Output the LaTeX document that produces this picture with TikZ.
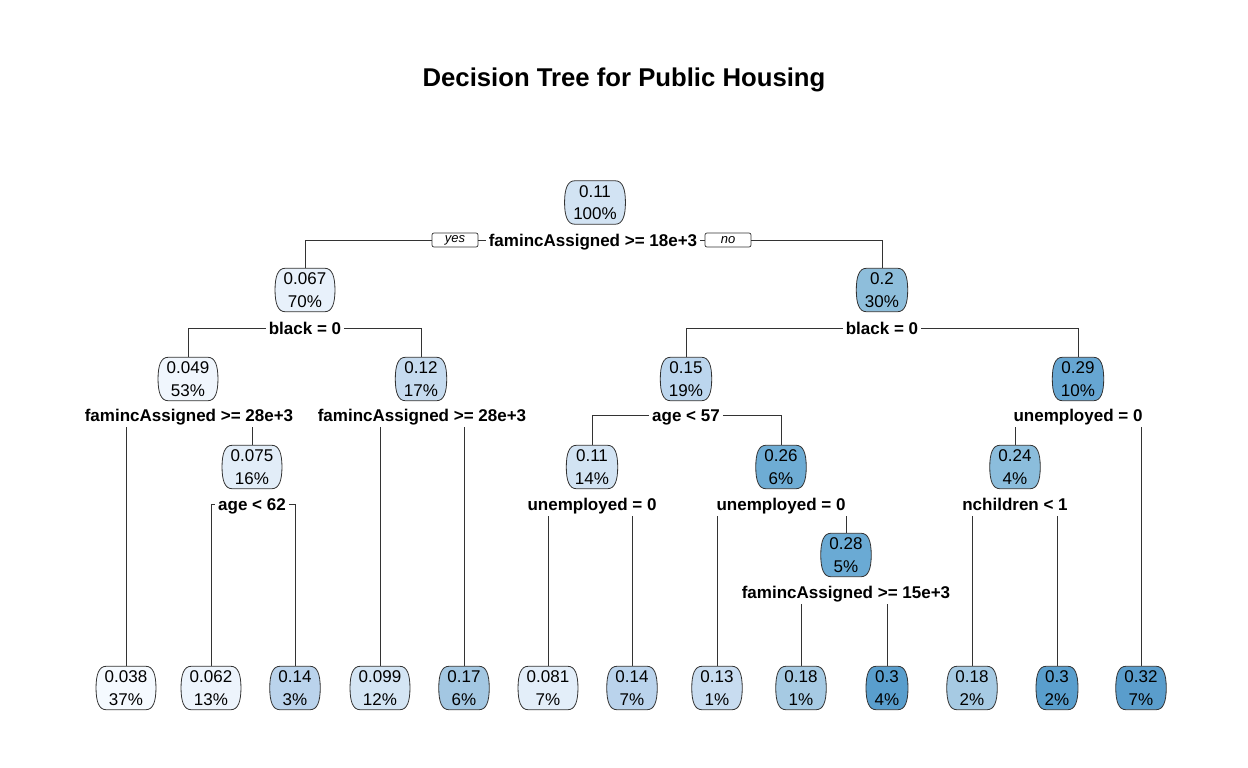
\documentclass[tikz,border=0pt]{standalone}
\usepackage{fontspec}
\setmainfont{Liberation Sans}
\usetikzlibrary{calc}
\pgfdeclarelayer{bg}
\pgfsetlayers{bg,main}
\begin{document}
\begin{tikzpicture}[x=1pt,y=-1pt]
\definecolor{ca}{HTML}{F5FAFF}
\definecolor{cb}{HTML}{F0F6FD}
\definecolor{cc}{HTML}{EDF4FC}
\definecolor{cd}{HTML}{E8F1FB}
\definecolor{ce}{HTML}{E2EDF8}
\definecolor{cf}{HTML}{E3EEF9}
\definecolor{cg}{HTML}{D4E5F4}
\definecolor{ch}{HTML}{D2E3F3}
\definecolor{ci}{HTML}{C6DBEF}
\definecolor{cj}{HTML}{C8DCF0}
\definecolor{ck}{HTML}{BAD3EC}
\definecolor{cl}{HTML}{BCD6EE}
\definecolor{cm}{HTML}{A3C7E2}
\definecolor{cn}{HTML}{A6CAE3}
\definecolor{co}{HTML}{8EBEDB}
\definecolor{cp}{HTML}{8BBDDC}
\definecolor{cq}{HTML}{6EACD4}
\definecolor{cr}{HTML}{6AAAD4}
\definecolor{cs}{HTML}{66A6D2}
\definecolor{ct}{HTML}{599ECD}
\definecolor{cu}{HTML}{5A9DCC}
\definecolor{edgec}{HTML}{333333}
\tikzset{
 tn/.style={align=center, font=\fontsize{17}{22.5}\selectfont, inner xsep=8.5pt, inner ysep=0pt, minimum height=43pt},
 bshape/.style={draw=edgec, line width=0.8pt},
 lbl/.style={font=\bfseries\fontsize{17}{20}\selectfont, text height=12.2pt, text depth=0pt,
   inner xsep=3pt, inner ysep=0pt},
 conn/.style={draw=edgec, line width=0.8pt},
 yn/.style={draw=edgec, line width=0.7pt, rounded corners=2pt, font=\itshape\fontsize{13}{14}\selectfont,
   minimum width=46pt, minimum height=14pt, inner sep=0pt, fill=white},
 ttl/.style={font=\bfseries\fontsize{25.7}{30}\selectfont}
}
\newcommand\boxshape[2]{%
 \path[bshape, fill=#2] let \p1=(#1.north west), \p2=(#1.south east), \p3=(#1.center) in
  (\x1+10pt,\y1) -- (\x2-10pt,\y1)
  .. controls (\x2-3pt,\y1) and (\x2,\y1-8pt) .. (\x2,\y3)
  .. controls (\x2,\y2+8pt) and (\x2-3pt,\y2) .. (\x2-10pt,\y2)
  -- (\x1+10pt,\y2)
  .. controls (\x1+3pt,\y2) and (\x1,\y2+8pt) .. (\x1,\y3)
  .. controls (\x1,\y1-8pt) and (\x1+3pt,\y1) .. cycle;}
\useasboundingbox (0,0) rectangle (1248,768);
\node[ttl] (title) at (624,80) {Decision Tree for Public Housing};
% internal nodes
\node[tn] (n1) at (595,202.5) {0.11\\100\%};
\node[tn] (n2) at (305,290) {0.067\\70\%};
\node[tn] (n3) at (882,290) {0.2\\30\%};
\node[tn] (n4) at (188,379) {0.049\\53\%};
\node[tn] (n5) at (421,379) {0.12\\17\%};
\node[tn] (n6) at (686,379) {0.15\\19\%};
\node[tn] (n7) at (1078,379) {0.29\\10\%};
\node[tn] (n9) at (252,467) {0.075\\16\%};
\node[tn] (n12) at (592,467) {0.11\\14\%};
\node[tn] (n13) at (781,467) {0.26\\6\%};
\node[tn] (n15) at (1015,467) {0.24\\4\%};
\node[tn] (n27) at (846,555) {0.28\\5\%};
% leaves
\node[tn] (L1) at (126,688) {0.038\\37\%};
\node[tn] (L2) at (211,688) {0.062\\13\%};
\node[tn] (L3) at (295,688) {0.14\\3\%};
\node[tn] (L4) at (380,688) {0.099\\12\%};
\node[tn] (L5) at (464,688) {0.17\\6\%};
\node[tn] (L6) at (548,688) {0.081\\7\%};
\node[tn] (L7) at (632,688) {0.14\\7\%};
\node[tn] (L8) at (717,688) {0.13\\1\%};
\node[tn] (L9) at (801,688) {0.18\\1\%};
\node[tn] (L10) at (887,688) {0.3\\4\%};
\node[tn] (L11) at (972,688) {0.18\\2\%};
\node[tn] (L12) at (1057,688) {0.3\\2\%};
\node[tn] (L13) at (1141,688) {0.32\\7\%};
\begin{pgfonlayer}{bg}
\boxshape{n1}{ch}
\boxshape{n2}{cd}
\boxshape{n3}{co}
\boxshape{n4}{cb}
\boxshape{n5}{ci}
\boxshape{n6}{cl}
\boxshape{n7}{cs}
\boxshape{n9}{ce}
\boxshape{n12}{ch}
\boxshape{n13}{cq}
\boxshape{n15}{cp}
\boxshape{n27}{cr}
\boxshape{L1}{ca}
\boxshape{L2}{cc}
\boxshape{L3}{ck}
\boxshape{L4}{cg}
\boxshape{L5}{cm}
\boxshape{L6}{cf}
\boxshape{L7}{ck}
\boxshape{L8}{cj}
\boxshape{L9}{cn}
\boxshape{L10}{ct}
\boxshape{L11}{cn}
\boxshape{L12}{ct}
\boxshape{L13}{cu}
\end{pgfonlayer}
% split labels
\node[lbl] (s1) at (593,240) {famincAssigned >= 18e+3};
\node[yn] (yes) at (455,240) {yes};
\node[yn] (no) at (728,240) {no};
\node[lbl] (s2) at (305,328) {black = 0};
\node[lbl] (s3) at (882,328) {black = 0};
\node[lbl] (s4) at (189,415) {famincAssigned >= 28e+3};
\node[lbl] (s5) at (422,415) {famincAssigned >= 28e+3};
\node[lbl] (s6) at (686,415) {age < 57};
\node[lbl] (s7) at (1078,415) {unemployed = 0};
\node[lbl] (s9) at (252,504) {age < 62};
\node[lbl] (s12) at (592,504) {unemployed = 0};
\node[lbl] (s13) at (781,504) {unemployed = 0};
\node[lbl] (s15) at (1015,504) {nchildren < 1};
\node[lbl] (s27) at (846,592) {famincAssigned >= 15e+3};
% connectors
\draw[conn] (n2.north) |- (yes.west);
\draw[conn] (yes.east) -- (s1.west);
\draw[conn] (s1.east) -- (no.west);
\draw[conn] (no.east) -| (n3.north);
\draw[conn] (n4.north) |- (s2.west);
\draw[conn] (s2.east) -| (n5.north);
\draw[conn] (n6.north) |- (s3.west);
\draw[conn] (s3.east) -| (n7.north);
\draw[conn] ([yshift=-6pt]s4.south -| L1.north) -- (L1.north);
\draw[conn] ([yshift=-6pt]s4.south -| n9.north) -- (n9.north);
\draw[conn] ([yshift=-6pt]s5.south -| L4.north) -- (L4.north);
\draw[conn] ([yshift=-6pt]s5.south -| L5.north) -- (L5.north);
\draw[conn] (n12.north) |- (s6.west);
\draw[conn] (s6.east) -| (n13.north);
\draw[conn] ([yshift=-6pt]s7.south -| n15.north) -- (n15.north);
\draw[conn] ([yshift=-6pt]s7.south -| L13.north) -- (L13.north);
\draw[conn] (L2.north) |- (s9.west);
\draw[conn] (s9.east) -| (L3.north);
\draw[conn] ([yshift=-6pt]s12.south -| L6.north) -- (L6.north);
\draw[conn] ([yshift=-6pt]s12.south -| L7.north) -- (L7.north);
\draw[conn] ([yshift=-6pt]s13.south -| L8.north) -- (L8.north);
\draw[conn] ([yshift=-6pt]s13.south -| n27.north) -- (n27.north);
\draw[conn] ([yshift=-6pt]s15.south -| L11.north) -- (L11.north);
\draw[conn] ([yshift=-6pt]s15.south -| L12.north) -- (L12.north);
\draw[conn] ([yshift=-6pt]s27.south -| L9.north) -- (L9.north);
\draw[conn] ([yshift=-6pt]s27.south -| L10.north) -- (L10.north);
\end{tikzpicture}
\end{document}
